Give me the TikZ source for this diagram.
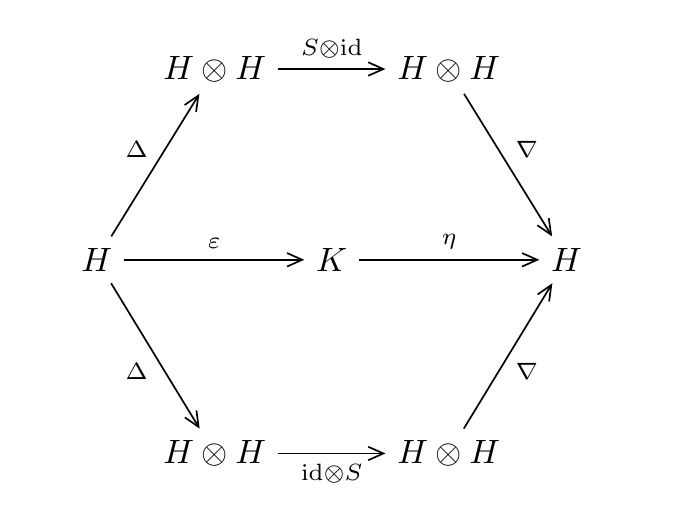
\documentclass[tikz,border=0pt]{standalone}
\usetikzlibrary{arrows.meta}

\begin{document}
\begin{tikzpicture}[
  map/.style={-{Straight Barb[length=4.5pt, width=4pt]}, line width=0.5pt},
  lbl/.style={font=\scriptsize, inner sep=3pt},
  dlbl/.style={lbl, inner sep=2pt}
]
\useasboundingbox (-3.46,-2.55) rectangle (3.81,2.71);

% Define nodes
\path (0,0)
node (K) {\(K\)}
(180:2.45 cm) node (Hl) {\(H\)}
(0:2.45 cm) node (Hr) {\(H\)}
(-1.22,1.99) node (HHtl) {\(H \otimes H\)}
(1.22,1.99) node (HHtr) {\(H \otimes H\)}
(-1.22,-2.02) node (HHbl) {\(H \otimes H\)}
(1.22,-2.02) node (HHbr) {\(H \otimes H\)}
;

% Maps
\draw[map] (Hl) -- node[dlbl, above left] {\(\Delta\)} (HHtl);
\draw[map] (HHtl) -- node[lbl, above] {\(S{\otimes}\mathrm{id}\)} (HHtr);
\draw[map] (HHtr) -- node[dlbl, above right] {\(\nabla\)} (Hr);
\draw[map] (Hl) -- node[dlbl, below left] {\(\Delta\)} (HHbl);
\draw[map] (HHbl) -- node[lbl, below] {\(\mathrm{id}{\otimes}S\)} (HHbr);
\draw[map] (HHbr) -- node[dlbl, below right] {\(\nabla\)} (Hr);
\draw[map] (Hl) -- node[lbl, above] {\(\varepsilon\)} (K);
\draw[map] (K) -- node[lbl, above] {\(\eta\)} (Hr);

\end{tikzpicture}
\end{document}
